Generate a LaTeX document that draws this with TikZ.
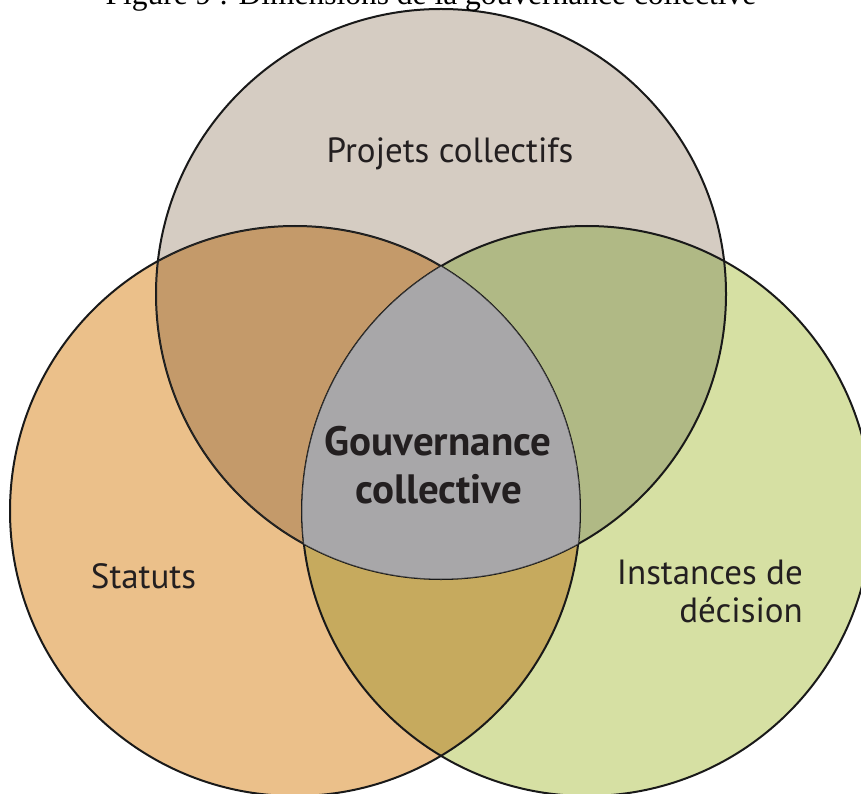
\documentclass[tikz,border=0pt]{standalone}
\usepackage{fontspec}
\setmainfont{PT Sans}
\newfontfamily\titlefont{Liberation Serif}
\definecolor{topc}{HTML}{D5CCC2}
\definecolor{leftc}{HTML}{EBC08A}
\definecolor{rightc}{HTML}{D6E0A3}
\definecolor{tlc}{HTML}{C49A6A}
\definecolor{trc}{HTML}{B0B985}
\definecolor{lrc}{HTML}{C6AA5E}
\definecolor{allc}{HTML}{A8A7A9}
\definecolor{txt}{HTML}{231F20}
\begin{document}
\begin{tikzpicture}[x=1pt,y=-1pt,
  ring/.style={draw=black!90,line width=2pt},
  lbl/.style={text=txt,font=\fontsize{35}{40}\selectfont,inner sep=0pt},
  mainlbl/.style={text=txt,font=\bfseries\fontsize{41}{48}\selectfont,inner sep=0pt}]
\useasboundingbox (0,0) rectangle (861,794);
\coordinate (T) at (441,294);
\coordinate (L) at (295,511);
\coordinate (R) at (587,511);
\def\rad{285}
% base fills
\fill[topc] (T) circle (\rad);
\fill[leftc] (L) circle (\rad);
\fill[rightc] (R) circle (\rad);
% pairwise overlaps
\begin{scope}\clip (T) circle (\rad); \fill[tlc] (L) circle (\rad);\end{scope}
\begin{scope}\clip (T) circle (\rad); \fill[trc] (R) circle (\rad);\end{scope}
\begin{scope}\clip (L) circle (\rad); \fill[lrc] (R) circle (\rad);\end{scope}
% outlines
\draw[ring] (T) circle (\rad);
\draw[ring] (L) circle (\rad);
\draw[ring] (R) circle (\rad);
% central region with thinner border
\begin{scope}\clip (T) circle (\rad); \clip (L) circle (\rad); \fill[allc] (R) circle (\rad);
  \draw[black!80,line width=0.6pt] (T) circle (\rad);
  \draw[black!80,line width=0.6pt] (L) circle (\rad);
  \draw[black!80,line width=0.6pt] (R) circle (\rad);
\end{scope}
% title (cut by the top edge, as in the reference)
\node[anchor=base,text=black,font=\titlefont\fontsize{31.5}{36}\selectfont,inner sep=0pt] (title) at (431,5) {Figure 9 : Dimensions de la gouvernance collective};
% labels
\node[lbl,anchor=base] (proj) at (450,163) {Projets collectifs};
\node[lbl,anchor=base] (stat) at (143.5,588) {Statuts};
\node[lbl,anchor=base east] (inst1) at (803,584) {Instances de};
\node[lbl,anchor=base east] (inst2) at (803,622) {décision};
\node[mainlbl,anchor=base] (gouv1) at (438,455) {Gouvernance};
\node[mainlbl,anchor=base] (gouv2) at (438.5,503) {collective};
\end{tikzpicture}
\end{document}
